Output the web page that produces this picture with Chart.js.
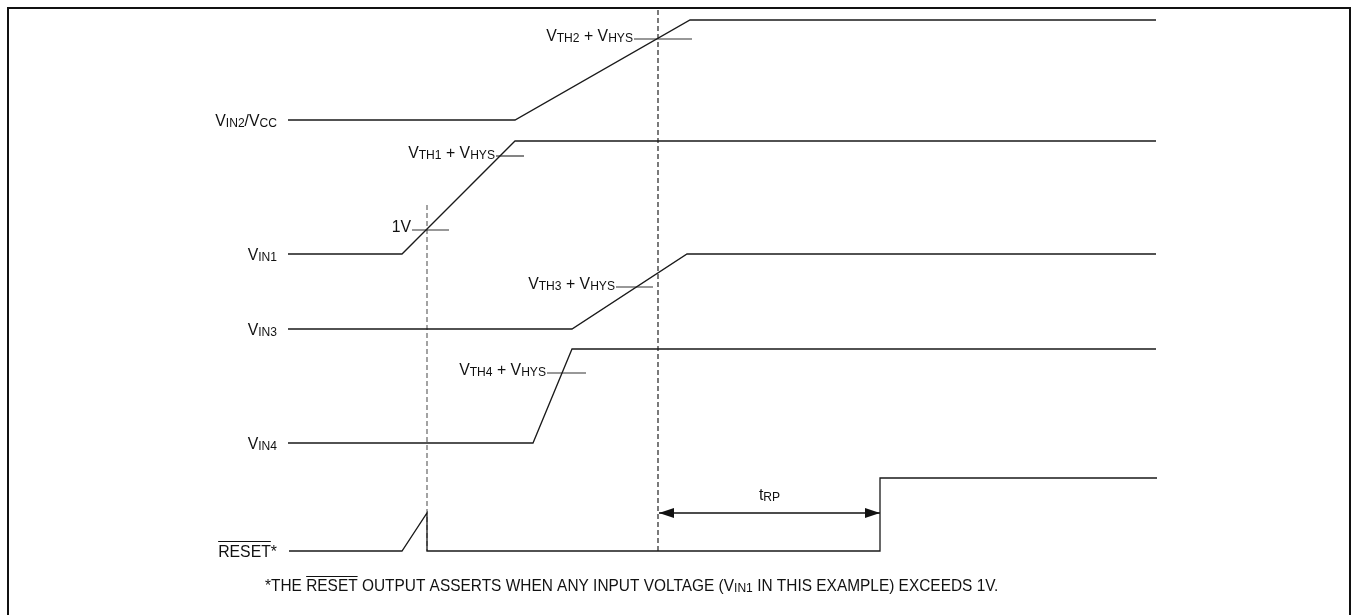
<!DOCTYPE html>
<html>
<head>
<meta charset="utf-8">
<script src="https://cdn.jsdelivr.net/npm/chart.js@4.4.1/dist/chart.umd.min.js"></script>
<style>
  body { margin: 0; background: #fff; }
  #wrap { width: 1353px; height: 615px; }
</style>
</head>
<body>
<div id="wrap"><canvas id="timing" width="1353" height="615"></canvas></div>
<script>
// Timing diagram data (time units across, level units down)
const vin2Time = [288, 515, 690, 1156];
const vin2Level = [120, 120, 20, 20];
const vin1Time = [288, 402, 515, 1156];
const vin1Level = [254, 254, 141, 141];
const vin3Time = [288, 572, 687, 1156];
const vin3Level = [329, 329, 254, 254];
const vin4Time = [288, 533, 572, 1156];
const vin4Level = [443, 443, 349, 349];
const resetTime = [289, 402, 427, 427, 880, 880, 1157];
const resetLevel = [551, 551, 513, 551, 551, 478, 478];

// signal names on the left
const signalLabels = [["V", "IN2", "/V", "CC"], ["V", "IN1"], ["V", "IN3"], ["V", "IN4"], ["RESET", "", "*"]];
const signalLevels = [120, 254, 329, 443, 551];

// threshold marks
const thrLabels = [["V", "TH2", " + V", "HYS"], ["V", "TH1", " + V", "HYS"], ["1V"], ["V", "TH3", " + V", "HYS"], ["V", "TH4", " + V", "HYS"]];
const thrStart = [634, 496, 412, 616, 547];
const thrEnd = [692, 524, 449, 653, 586];
const thrLevel = [39, 156, 230, 287, 373];

// dashed event markers
const markTime = [427, 658];
const markTop = [205, 10];
const markBottom = [551, 553];

// reset timeout
const trpStart = 659;
const trpEnd = 880;
const trpLevel = 513;

const FONT = "'Liberation Sans', Arial, sans-serif";
const SQUEEZE = 0.93;

function wave(t, l) {
  return t.map((x, i) => ({ x: x, y: l[i] }));
}

const datasets = [];
[[vin2Time, vin2Level], [vin1Time, vin1Level], [vin3Time, vin3Level], [vin4Time, vin4Level], [resetTime, resetLevel]].forEach(w => {
  datasets.push({ data: wave(w[0], w[1]), borderColor: "#1a1a1a", borderWidth: 1.3, showLine: true, pointRadius: 0, tension: 0 });
});
thrLevel.forEach((lv, i) => {
  datasets.push({ data: [{ x: thrStart[i], y: lv }, { x: thrEnd[i], y: lv }], borderColor: "#333", borderWidth: 1.2, showLine: true, pointRadius: 0 });
});
markTime.forEach((t, i) => {
  datasets.push({ data: [{ x: t, y: markTop[i] }, { x: t, y: markBottom[i] }], borderColor: i === 0 ? "#666" : "#222", borderWidth: 1.2, borderDash: [5, 3], showLine: true, pointRadius: 0 });
});
datasets.push({ data: [{ x: trpStart, y: trpLevel }, { x: trpEnd, y: trpLevel }], borderColor: "#111", borderWidth: 1.3, showLine: true, pointRadius: 0 });

// text with subscripts: parts alternate normal / subscript, squeezed horizontally
// returns left x and the widths of each part
function richText(ctx, parts, xRef, yMid, size, align) {
  const sub = Math.round(size * 0.78);
  const widths = parts.map((p, i) => {
    ctx.font = (i % 2 ? sub : size) + "px " + FONT;
    return ctx.measureText(p).width * SQUEEZE;
  });
  const total = widths.reduce((a, b) => a + b, 0);
  let x = align === "right" ? xRef - total : align === "center" ? xRef - total / 2 : xRef;
  const left = x;
  ctx.textBaseline = "alphabetic";
  ctx.textAlign = "left";
  parts.forEach((p, i) => {
    ctx.font = (i % 2 ? sub : size) + "px " + FONT;
    ctx.save();
    ctx.translate(x, yMid + size * 0.36 + (i % 2 ? 1 : 0));
    ctx.scale(SQUEEZE, 1);
    ctx.fillText(p, 0, 0);
    ctx.restore();
    x += widths[i];
  });
  return { left: left, widths: widths };
}

function arrowHead(ctx, x, y, dir) {
  ctx.beginPath();
  ctx.moveTo(x, y);
  ctx.lineTo(x - dir * 15, y - 5);
  ctx.lineTo(x - dir * 15, y + 5);
  ctx.closePath();
  ctx.fill();
}

const annotations = {
  id: "annotations",
  afterDatasetsDraw(chart) {
    const ctx = chart.ctx;
    const xs = chart.scales.x, ys = chart.scales.y;
    ctx.save();
    ctx.fillStyle = "#111";
    // signal names
    signalLabels.forEach((parts, i) => {
      const y = ys.getPixelForValue(signalLevels[i]);
      const r = richText(ctx, parts, xs.getPixelForValue(277), y, 17, "right");
      if (parts[0] === "RESET") ctx.fillRect(r.left, y - 10, r.widths[0], 1);
    });
    // threshold labels
    thrLabels.forEach((parts, i) => {
      const y = ys.getPixelForValue(thrLevel[i]);
      richText(ctx, parts, xs.getPixelForValue(thrStart[i]) - 1, y - 4, 17, "right");
    });
    // tRP arrows and label
    const ay = ys.getPixelForValue(trpLevel);
    arrowHead(ctx, xs.getPixelForValue(trpStart), ay, -1);
    arrowHead(ctx, xs.getPixelForValue(trpEnd), ay, 1);
    richText(ctx, ["t", "RP"], xs.getPixelForValue((trpStart + trpEnd) / 2), ay - 19, 17, "center");
    // footnote
    const fy = ys.getPixelForValue(585);
    const fn = richText(ctx, ["*THE ", "", "RESET", "", " OUTPUT ASSERTS WHEN ANY INPUT VOLTAGE (V", "IN1", " IN THIS EXAMPLE) EXCEEDS 1V."], xs.getPixelForValue(265), fy, 16.6, "left");
    ctx.fillRect(fn.left + fn.widths[0], fy - 9, fn.widths[2], 1);
    // frame
    ctx.strokeStyle = "#111";
    ctx.lineWidth = 2;
    ctx.beginPath();
    ctx.moveTo(8, 615);
    ctx.lineTo(8, 8);
    ctx.lineTo(1350, 8);
    ctx.lineTo(1350, 615);
    ctx.stroke();
    ctx.restore();
  }
};

new Chart(document.getElementById("timing"), {
  type: "scatter",
  data: { datasets: datasets },
  options: {
    responsive: false,
    animation: false,
    layout: { padding: 0 },
    scales: {
      x: { type: "linear", min: 0, max: 1353, display: false },
      y: { type: "linear", min: 0, max: 615, reverse: true, display: false }
    },
    plugins: { legend: { display: false }, tooltip: { enabled: false } }
  },
  plugins: [annotations]
});
</script>
</body>
</html>
